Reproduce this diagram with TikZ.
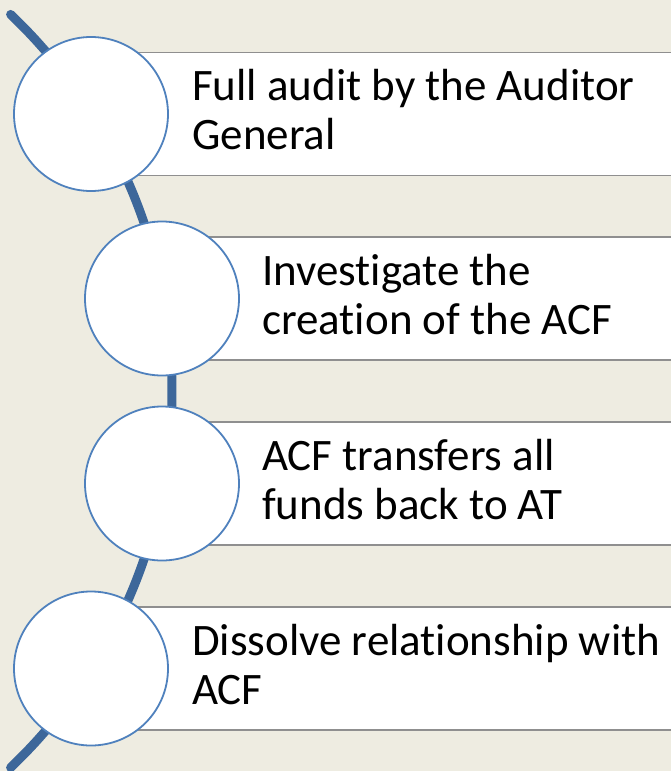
\documentclass[tikz,border=0pt]{standalone}
\usepackage{fontspec}
\setmainfont{Carlito}[Ligatures=NoCommon]
\usetikzlibrary{positioning}
\definecolor{paperColor}{HTML}{EEECE1}
\definecolor{spineColor}{HTML}{3D679A}
\definecolor{ringColor}{HTML}{4F81BD}
\definecolor{barColor}{HTML}{8F8F8F}
\tikzset{
	spine/.style={line width=9pt,spineColor,line cap=round},
	ring/.style={circle,draw=ringColor,line width=1.8pt,fill=white,minimum size=154pt,inner sep=0pt},
	bar/.style={rectangle,draw=barColor,line width=1.3pt,fill=white,minimum height=123pt,minimum width=620pt,inner sep=0pt,anchor=west},
	itemtext/.style={anchor=base west,align=left,inner sep=0pt,font=\fontsize{45pt}{49pt}\selectfont}
}
\begin{document}
\begin{tikzpicture}[x=1pt,y=-1pt]
				\fill[paperColor] (0,0) rectangle (671,771);
				\useasboundingbox (0,0) rectangle (671,771);
				% centres of the four rings
				\coordinate (A) at (91,114);
				\coordinate (B) at (162,298.5);
				\coordinate (C) at (162,483.5);
				\coordinate (D) at (91,668.5);
				\coordinate (O) at (-348,391);
				\path (O) ++(46.4:520pt) coordinate (S);
				\draw[spine] (S) arc[start angle=46.4,end angle=-46.4,radius=520pt];
				\node[bar] (a) at (A) {};
				\node[bar] (b) at (B) {};
				\node[bar] (c) at (C) {};
				\node[bar] (d) at (D) {};
				\node[ring] (ra) at (A) {};
				\node[ring] (rb) at (B) {};
				\node[ring] (rc) at (C) {};
				\node[ring] (rd) at (D) {};
				% base of a two-line node is its last line
				\node[itemtext] (ta) at (192,149.5) {Full audit by the Auditor\\General};
				\node[itemtext] (tb) at (262,334) {Investigate the\\creation of the ACF};
				\node[itemtext] (tc) at (262,519) {ACF transfers all\\funds back to AT};
				\node[itemtext] (td) at (192,704) {Dissolve relationship with\\ACF};
\end{tikzpicture}
\end{document}
